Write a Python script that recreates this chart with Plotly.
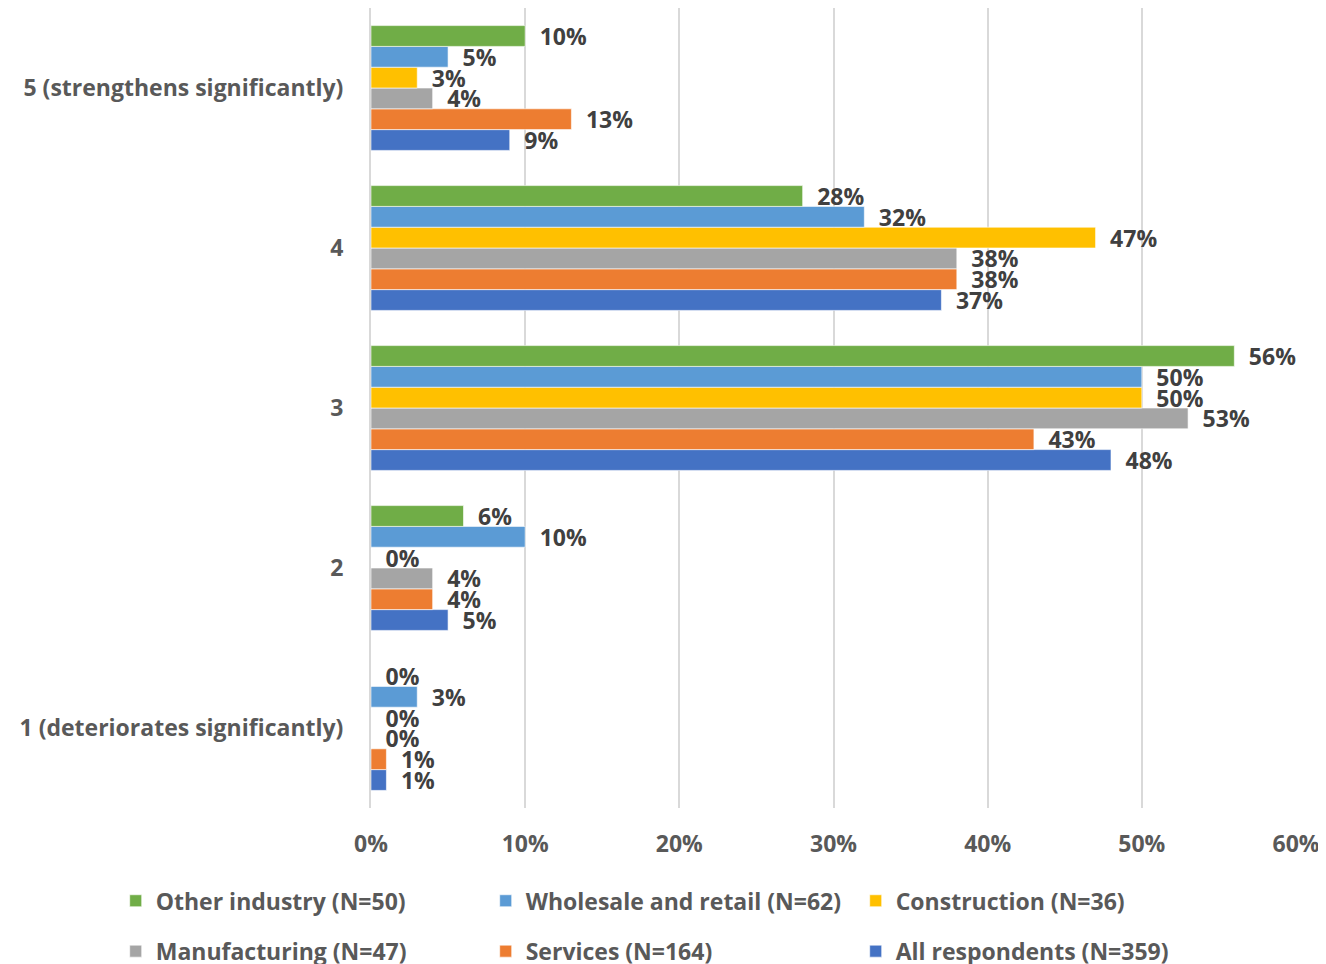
"Grouped horizontal bar chart of expected development by sector."

import plotly.graph_objects as go

# categories bottom -> top (plotly draws first category at the bottom)
categories = ["1 (deteriorates significantly)", "2", "3", "4", "5 (strengthens significantly)"]

# series values in %, same order as categories
other_industry = [0, 6, 56, 28, 10]
wholesale_retail = [3, 10, 50, 32, 5]
construction = [0, 0, 50, 47, 3]
manufacturing = [0, 4, 53, 38, 4]
services = [1, 4, 43, 38, 13]
all_respondents = [1, 5, 48, 37, 9]

x_ticks = [0, 10, 20, 30, 40, 50, 60]
x_tick_labels = ["0%", "10%", "20%", "30%", "40%", "50%", "60%"]

# first trace ends up lowest within each group
series = [
    ("All respondents (N=359)", all_respondents, "#4472C4", "legend2", 3),
    ("Services (N=164)", services, "#ED7D31", "legend2", 2),
    ("Manufacturing (N=47)", manufacturing, "#A5A5A5", "legend2", 1),
    ("Construction (N=36)", construction, "#FFC000", "legend", 3),
    ("Wholesale and retail (N=62)", wholesale_retail, "#5B9BD5", "legend", 2),
    ("Other industry (N=50)", other_industry, "#70AD47", "legend", 1),
]

FONT = "Open Sans"
GREY = "#595959"
SIZE = 23

fig = go.Figure()
for name, values, color, legend, rank in series:
    fig.add_bar(
        y=categories,
        x=values,
        orientation="h",
        name=name,
        marker={"color": color, "line": {"color": "white", "width": 0.6}},
        text=[f"\u2002{v}%" for v in values],
        texttemplate="%{text}",
        textposition="outside",
        constraintext="none",
        cliponaxis=False,
        textfont={"family": FONT, "size": SIZE, "color": "#404040", "weight": "bold"},
        legend=legend,
        legendrank=rank,
    )

legend_common = {
    "orientation": "h",
    "xref": "paper",
    "yref": "paper",
    "x": -0.276,
    "xanchor": "left",
    "yanchor": "middle",
    "entrywidth": 325,
    "entrywidthmode": "pixels",
    "itemwidth": 30,
    "traceorder": "normal",
    "font": {"family": FONT, "size": SIZE, "color": GREY, "weight": "bold"},
    "bgcolor": "rgba(0,0,0,0)",
}

# page has an 8px body margin; the figure runs a bit past the window bottom
# so the legends fit inside it and do not push the plot margins
fig.update_layout(
    width=1318,
    height=1000,
    margin={"l": 363, "r": 30, "t": 0, "b": 200},
    barmode="group",
    bargap=0.22,
    bargroupgap=0,
    plot_bgcolor="white",
    paper_bgcolor="white",
    font={"family": FONT, "size": SIZE, "color": GREY, "weight": "bold"},
    legend={**legend_common, "y": -0.116},
    legend2={**legend_common, "y": -0.179},
)
fig.update_xaxes(
    range=[0, 60],
    tickvals=x_ticks,
    ticktext=x_tick_labels,
    showgrid=True,
    gridcolor="#D9D9D9",
    gridwidth=2,
    zeroline=False,
    showline=False,
    ticks="",
    ticklabelstandoff=20,
    tickfont={"family": FONT, "size": SIZE, "color": GREY, "weight": "bold"},
)
fig.update_yaxes(
    showline=True,
    linecolor="#D9D9D9",
    linewidth=2,
    ticks="",
    ticklabelstandoff=21,
    tickfont={"family": FONT, "size": SIZE, "color": GREY, "weight": "bold"},
)

fig.write_html("out.html")
